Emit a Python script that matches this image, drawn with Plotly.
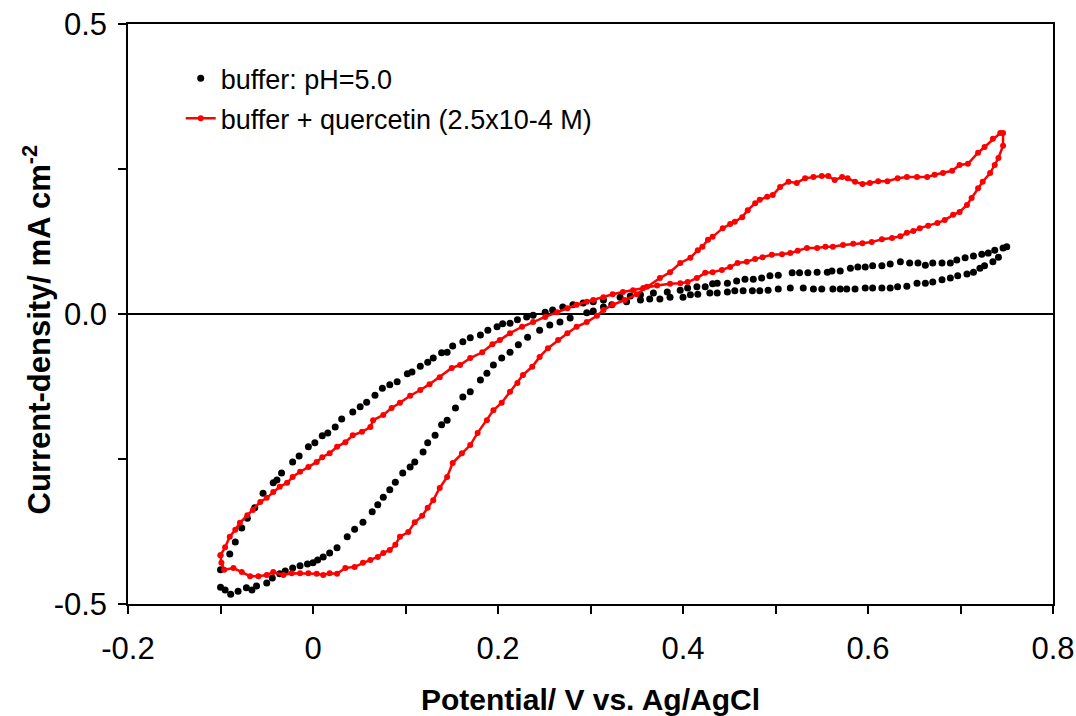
import plotly.graph_objects as go

# buffer pH=5.0, cathodic (lower) branch then anodic (upper) branch
buffer_x = [
    -0.100, -0.095, -0.089, -0.081, -0.072, -0.066, -0.061, -0.050, -0.044, -0.036,
    -0.030, -0.022, -0.014, -0.006, 0.000, 0.005, 0.011, 0.018, 0.026, 0.037,
    0.045, 0.054, 0.064, 0.070, 0.076, 0.083, 0.089, 0.097, 0.105, 0.110,
    0.119, 0.124, 0.132, 0.139, 0.145, 0.154, 0.162, 0.170, 0.181, 0.188,
    0.195, 0.204, 0.213, 0.222, 0.232, 0.245, 0.256, 0.267, 0.278, 0.296,
    0.303, 0.314, 0.323, 0.339, 0.354, 0.364, 0.375, 0.386, 0.400, 0.408,
    0.416, 0.429, 0.437, 0.448, 0.456, 0.465, 0.475, 0.483, 0.492, 0.503,
    0.516, 0.530, 0.541, 0.550, 0.562, 0.570, 0.577, 0.586, 0.597, 0.605,
    0.615, 0.624, 0.632, 0.642, 0.653, 0.662, 0.670, 0.680, 0.689, 0.697,
    0.707, 0.714, 0.721, 0.726, 0.735, 0.741,
    0.750, 0.746, 0.737, 0.730, 0.723, 0.714, 0.705, 0.696, 0.689, 0.680,
    0.670, 0.662, 0.654, 0.645, 0.635, 0.624, 0.615, 0.605, 0.597, 0.589,
    0.581, 0.570, 0.561, 0.556, 0.545, 0.535, 0.526, 0.518, 0.503, 0.494,
    0.485, 0.476, 0.467, 0.458, 0.448, 0.437, 0.432, 0.424, 0.415, 0.405,
    0.397, 0.383, 0.368, 0.354, 0.343, 0.332, 0.314, 0.303, 0.292, 0.281,
    0.270, 0.259, 0.251, 0.238, 0.231, 0.221, 0.213, 0.205, 0.199, 0.189,
    0.181, 0.170, 0.162, 0.151, 0.145, 0.139, 0.130, 0.124, 0.116, 0.107,
    0.102, 0.091, 0.083, 0.075, 0.067, 0.058, 0.051, 0.043, 0.031, 0.024,
    0.016, 0.010, 0.002, -0.005, -0.015, -0.022, -0.034, -0.039, -0.043, -0.054,
    -0.063, -0.071, -0.077, -0.084, -0.090, -0.100,
]
buffer_y = [
    -0.471, -0.476, -0.483, -0.478, -0.472, -0.476, -0.469, -0.464, -0.455, -0.448,
    -0.443, -0.438, -0.434, -0.431, -0.429, -0.424, -0.419, -0.412, -0.403, -0.384,
    -0.371, -0.359, -0.341, -0.329, -0.316, -0.303, -0.290, -0.274, -0.264, -0.255,
    -0.238, -0.222, -0.209, -0.191, -0.183, -0.162, -0.143, -0.134, -0.114, -0.102,
    -0.088, -0.076, -0.066, -0.053, -0.040, -0.028, -0.019, -0.014, -0.007, 0.002,
    0.005, 0.012, 0.016, 0.021, 0.024, 0.026, 0.026, 0.029, 0.029, 0.033,
    0.034, 0.036, 0.036, 0.038, 0.040, 0.040, 0.040, 0.040, 0.041, 0.043,
    0.045, 0.045, 0.043, 0.043, 0.043, 0.043, 0.043, 0.043, 0.045, 0.045,
    0.045, 0.045, 0.047, 0.048, 0.053, 0.053, 0.055, 0.059, 0.062, 0.066,
    0.069, 0.072, 0.079, 0.083, 0.090, 0.098,
    0.116, 0.114, 0.110, 0.105, 0.103, 0.100, 0.097, 0.093, 0.088, 0.088,
    0.088, 0.084, 0.088, 0.088, 0.090, 0.086, 0.083, 0.083, 0.081, 0.081,
    0.079, 0.074, 0.074, 0.072, 0.072, 0.071, 0.071, 0.071, 0.067, 0.066,
    0.062, 0.060, 0.060, 0.057, 0.053, 0.053, 0.052, 0.047, 0.047, 0.045,
    0.041, 0.038, 0.036, 0.033, 0.031, 0.029, 0.024, 0.021, 0.019, 0.016,
    0.012, 0.007, 0.003, -0.002, -0.005, -0.010, -0.016, -0.017, -0.022, -0.028,
    -0.036, -0.041, -0.048, -0.055, -0.066, -0.067, -0.076, -0.083, -0.090, -0.100,
    -0.103, -0.117, -0.122, -0.128, -0.140, -0.152, -0.160, -0.169, -0.181, -0.195,
    -0.205, -0.210, -0.222, -0.229, -0.245, -0.255, -0.274, -0.286, -0.291, -0.309,
    -0.334, -0.352, -0.369, -0.393, -0.414, -0.441,
]

# buffer + quercetin: one full cycle
quercetin_x = [
    -0.100, -0.099, -0.096, -0.086, -0.077, -0.068, -0.059, -0.050, -0.043, -0.032,
    -0.023, -0.014, -0.005, 0.004, 0.011, 0.018, 0.026, 0.035, 0.045, 0.054,
    0.062, 0.070, 0.076, 0.083, 0.089, 0.094, 0.103, 0.110, 0.118, 0.124,
    0.130, 0.137, 0.145, 0.151, 0.161, 0.170, 0.178, 0.188, 0.195, 0.204,
    0.213, 0.221, 0.227, 0.237, 0.245, 0.254, 0.265, 0.275, 0.285, 0.296,
    0.307, 0.314, 0.324, 0.337, 0.350, 0.361, 0.375, 0.386, 0.397, 0.408,
    0.416, 0.421, 0.427, 0.432, 0.443, 0.451, 0.456, 0.464, 0.470, 0.478,
    0.483, 0.491, 0.497, 0.505, 0.514, 0.523, 0.532, 0.541, 0.550, 0.557,
    0.564, 0.572, 0.578, 0.586, 0.594, 0.602, 0.611, 0.621, 0.632, 0.642,
    0.653, 0.664, 0.672, 0.681, 0.691, 0.699, 0.708, 0.719, 0.726, 0.735,
    0.743, 0.746,
    0.746, 0.741, 0.737, 0.732, 0.724, 0.719, 0.712, 0.707, 0.699, 0.692,
    0.683, 0.675, 0.665, 0.656, 0.649, 0.642, 0.635, 0.626, 0.615, 0.604,
    0.594, 0.584, 0.573, 0.562, 0.554, 0.545, 0.534, 0.524, 0.516, 0.507,
    0.496, 0.486, 0.478, 0.469, 0.459, 0.451, 0.442, 0.432, 0.424, 0.415,
    0.405, 0.397, 0.386, 0.372, 0.357, 0.346, 0.335, 0.324, 0.314, 0.303,
    0.296, 0.285, 0.275, 0.264, 0.251, 0.238, 0.226, 0.213, 0.202, 0.194,
    0.183, 0.170, 0.159, 0.150, 0.137, 0.126, 0.116, 0.105, 0.094, 0.085,
    0.076, 0.065, 0.062, 0.053, 0.043, 0.035, 0.026, 0.018, 0.010, 0.004,
    -0.005, -0.014, -0.022, -0.028, -0.036, -0.043, -0.050, -0.057, -0.065, -0.071,
    -0.079, -0.084, -0.090, -0.095, -0.100,
]
quercetin_y = [
    -0.416, -0.429, -0.441, -0.438, -0.445, -0.452, -0.452, -0.450, -0.445, -0.450,
    -0.447, -0.447, -0.447, -0.448, -0.450, -0.447, -0.448, -0.438, -0.436, -0.429,
    -0.424, -0.419, -0.412, -0.407, -0.398, -0.384, -0.376, -0.359, -0.348, -0.334,
    -0.321, -0.300, -0.281, -0.257, -0.240, -0.226, -0.205, -0.183, -0.166, -0.153,
    -0.134, -0.119, -0.105, -0.091, -0.074, -0.059, -0.045, -0.033, -0.022, -0.014,
    -0.003, 0.007, 0.016, 0.024, 0.034, 0.047, 0.062, 0.072, 0.088, 0.097,
    0.110, 0.116, 0.128, 0.133, 0.148, 0.155, 0.159, 0.167, 0.179, 0.191,
    0.197, 0.202, 0.205, 0.219, 0.228, 0.226, 0.234, 0.236, 0.238, 0.238,
    0.231, 0.236, 0.234, 0.228, 0.224, 0.226, 0.229, 0.229, 0.234, 0.236,
    0.236, 0.236, 0.240, 0.243, 0.247, 0.257, 0.259, 0.278, 0.288, 0.302,
    0.312, 0.312,
    0.290, 0.269, 0.257, 0.243, 0.228, 0.217, 0.200, 0.188, 0.176, 0.171,
    0.162, 0.157, 0.152, 0.148, 0.143, 0.140, 0.134, 0.131, 0.129, 0.124,
    0.122, 0.121, 0.119, 0.116, 0.116, 0.114, 0.114, 0.109, 0.105, 0.103,
    0.102, 0.098, 0.095, 0.090, 0.088, 0.081, 0.076, 0.072, 0.071, 0.062,
    0.055, 0.053, 0.052, 0.049, 0.045, 0.041, 0.038, 0.034, 0.029, 0.024,
    0.021, 0.016, 0.010, 0.003, -0.005, -0.014, -0.022, -0.033, -0.045, -0.052,
    -0.066, -0.076, -0.088, -0.093, -0.109, -0.121, -0.131, -0.141, -0.153, -0.162,
    -0.174, -0.183, -0.195, -0.203, -0.209, -0.221, -0.229, -0.240, -0.247, -0.255,
    -0.264, -0.272, -0.281, -0.291, -0.298, -0.307, -0.317, -0.324, -0.338, -0.347,
    -0.360, -0.372, -0.384, -0.402, -0.416,
]

x_tickvals = [-0.2, -0.1, 0.0, 0.1, 0.2, 0.3, 0.4, 0.5, 0.6, 0.7, 0.8]
x_ticktext = ["-0.2", "", "0", "", "0.2", "", "0.4", "", "0.6", "", "0.8"]
y_tickvals = [-0.5, -0.25, 0.0, 0.25, 0.5]
y_ticktext = ["-0.5", "", "0.0", "", "0.5"]

FONT = "Liberation Sans, Arial, sans-serif"

fig = go.Figure()

fig.add_trace(go.Scatter(
    x=buffer_x, y=buffer_y,
    mode="markers",
    name="buffer: pH=5.0",
    legendgroup="a",
    marker=dict(color="black", size=7),
))

fig.add_trace(go.Scatter(
    x=quercetin_x, y=quercetin_y,
    mode="lines+markers",
    name="buffer + quercetin (2.5x10-4 M)",
    legendgroup="b",
    line=dict(color="#ff0000", width=2.5),
    marker=dict(color="#ff0000", size=6),
))

axis_common = dict(
    showline=True, linecolor="black", linewidth=1.5, mirror=True,
    ticks="outside", ticklen=8, tickwidth=1.5, tickcolor="black",
    showgrid=False, automargin=False,
    tickfont=dict(family=FONT, size=31, color="black"),
)

fig.update_xaxes(
    range=[-0.2, 0.8],
    tickmode="array", tickvals=x_tickvals, ticktext=x_ticktext,
    zeroline=False, ticklabelstandoff=8,
    title=dict(text="<b>Potential/ V vs. Ag/AgCl</b>", standoff=30,
               font=dict(family=FONT, size=30, color="black")),
    **axis_common,
)

fig.update_yaxes(
    range=[-0.5, 0.5],
    tickmode="array", tickvals=y_tickvals, ticktext=y_ticktext,
    zeroline=True, zerolinecolor="black", zerolinewidth=1.5,
    ticklabelstandoff=5,
    **axis_common,
)

# y title as an annotation so it can sit closer to the tick labels
fig.add_annotation(
    text="<b>Current-density/ mA cm<sup>-2</sup></b>",
    xref="paper", yref="paper", x=-0.098, y=0.474,
    xanchor="center", yanchor="middle", textangle=-90, showarrow=False,
    font=dict(family=FONT, size=31, color="black"),
)

fig.update_layout(
    width=1076, height=716,
    margin=dict(l=128, r=23, t=24, b=112),
    paper_bgcolor="white", plot_bgcolor="white",
    showlegend=True,
    legend=dict(
        x=0.057, y=0.948, xanchor="left", yanchor="top",
        bgcolor="rgba(0,0,0,0)",
        font=dict(family=FONT, size=27, color="black"),
        traceorder="grouped", tracegroupgap=2,
    ),
)

# drop the default page margin so the figure sits at the window's corner
fig.write_html("out.html", config={"displayModeBar": False},
               post_script="document.body.style.margin = '0';")
